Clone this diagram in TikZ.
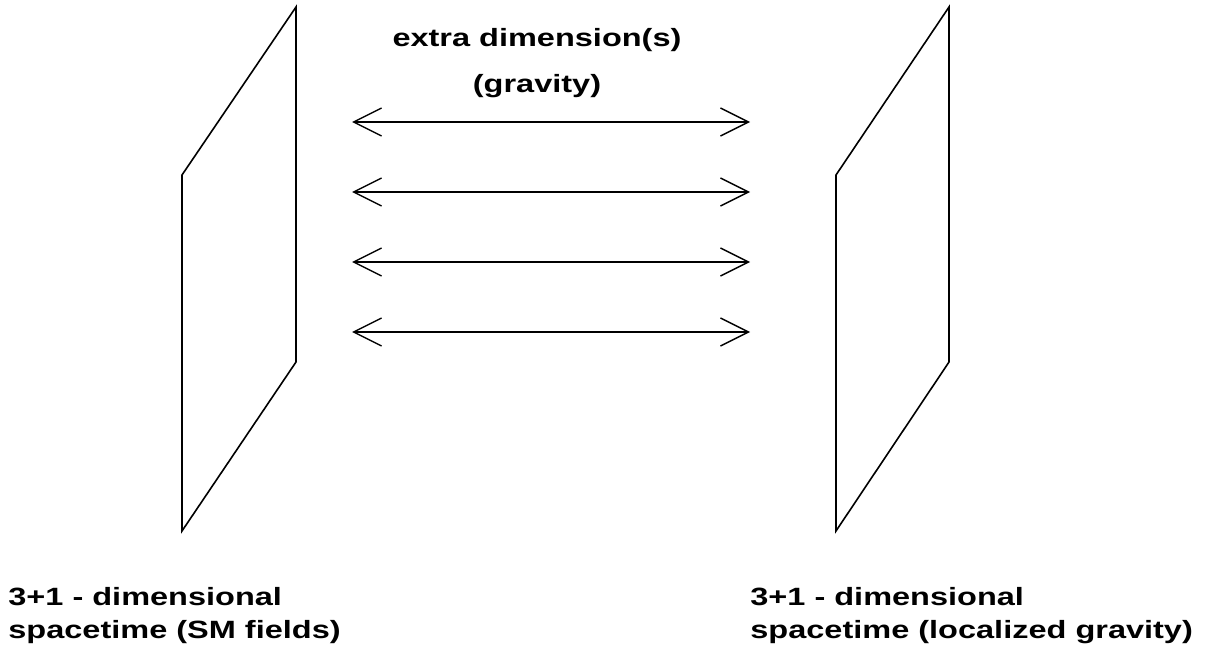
\documentclass[tikz,border=0pt]{standalone}
\usepackage{fontspec}
\newfontfamily\figfont{Liberation Sans Bold}[FakeStretch=1.3]
\usetikzlibrary{arrows.meta}
\tikzset{
  plane/.style={draw=black, line width=0.8pt, line join=miter},
  link/.style={
    {Straight Barb[length=14pt,width=14pt]}-{Straight Barb[length=14pt,width=14pt]},
    line width=0.7pt
  },
  bigtext/.style={
    font=\figfont\fontsize{12.5}{16.5}\selectfont,
    inner sep=0pt
  }
}
\begin{document}
\begin{tikzpicture}[x=0.5pt,y=-0.5pt]
  \useasboundingbox (0,0) rectangle (1222,658);

  % the two branes
  \draw[plane] (182,175) -- (296,7) -- (296,362) -- (182,531) -- cycle;
  \draw[plane] (836,175) -- (949,7) -- (949,362) -- (836,531) -- cycle;

  \foreach \y [count=\i] in {122,192,262,332} {
    \coordinate (l\i) at (352,\y);
    \coordinate (r\i) at (750,\y);
    \draw[link] (l\i) -- (r\i);
  }

  \node[bigtext,align=center,anchor=base] (extra) at (537,93)
    {extra dimension(s)\\[6.5pt](gravity)};
  \node[bigtext,align=left,anchor=base west] (smside) at (8,638)
    {3+1 - dimensional\\spacetime (SM fields)};
  \node[bigtext,align=left,anchor=base west] (gravside) at (750,638)
    {3+1 - dimensional\\spacetime (localized gravity)};
\end{tikzpicture}
\end{document}
